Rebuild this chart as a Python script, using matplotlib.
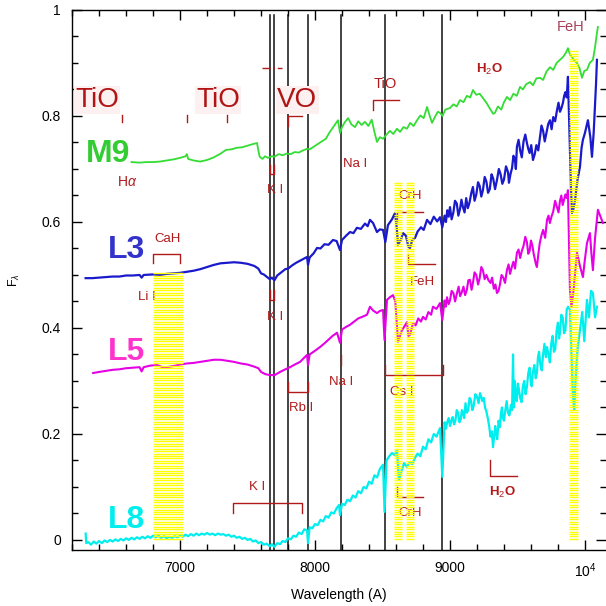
import numpy as np
import matplotlib
matplotlib.use('Agg')
import matplotlib.pyplot as plt
from matplotlib.ticker import MultipleLocator, FixedLocator, FixedFormatter

plt.rcParams['font.family'] = ['Liberation Sans', 'DejaVu Sans']
plt.rcParams['mathtext.fontset'] = 'custom'
plt.rcParams['mathtext.rm'] = 'Liberation Sans'
plt.rcParams['mathtext.it'] = 'Liberation Sans:italic'

# spectra as (wavelength [A], normalised flux) pairs
m9 = [(6640, .713), (6700, .712), (6750, .713), (6800, .713), (6850, .714), (6900, .716), (6950, .718),
      (7000, .721), (7040, .724), (7050, .728), (7060, .719), (7100, .716), (7150, .714), (7200, .717),
      (7250, .722), (7300, .729), (7340, .736), (7380, .737), (7420, .740), (7460, .741), (7500, .744),
      (7540, .747), (7570, .749), (7580, .735), (7590, .723), (7610, .719), (7630, .724), (7650, .721),
      (7680, .724), (7700, .723), (7730, .728), (7760, .726), (7790, .729), (7820, .728), (7850, .732),
      (7880, .731), (7910, .735), (7940, .738), (7960, .737), (7990, .742), (8020, .747), (8050, .752),
      (8080, .757), (8110, .770), (8140, .781), (8170, .792), (8185, .768), (8200, .779), (8220, .788),
      (8245, .796), (8270, .784), (8296, .779), (8320, .790), (8345, .783), (8370, .789), (8395, .781),
      (8420, .793), (8440, .770), (8459, .751), (8480, .760), (8504, .757), (8530, .765), (8555, .772),
      (8580, .766), (8607, .776), (8630, .770), (8655, .779), (8681, .776), (8705, .787), (8730, .781),
      (8756, .792), (8780, .801), (8805, .796), (8830, .817), (8850, .800), (8867, .787), (8890, .799),
      (8910, .808), (8926, .806), (8945, .800), (8965, .812), (9000, .815), (9025, .822), (9050, .818),
      (9074, .830), (9100, .826), (9125, .838), (9150, .835), (9170, .849), (9195, .840), (9220, .842),
      (9244, .834), (9270, .825), (9300, .812), (9320, .804), (9333, .806), (9355, .818), (9380, .812),
      (9400, .826), (9422, .836), (9445, .830), (9470, .842), (9495, .838), (9519, .855), (9540, .850),
      (9565, .860), (9593, .864), (9615, .858), (9640, .871), (9667, .872), (9690, .868), (9715, .884),
      (9741, .892), (9765, .887), (9790, .900), (9815, .906), (9840, .912), (9860, .920), (9874, .928),
      (9890, .915), (9904, .911), (9920, .905), (9941, .900), (9960, .890), (9978, .872), (9995, .885),
      (10015, .887), (10035, .900), (10059, .906), (10075, .930), (10089, .957), (10096, .968)]

l3 = [(6300, .494), (6350, .494), (6400, .495), (6450, .496), (6500, .497), (6550, .497), (6600, .499),
      (6650, .499), (6700, .500), (6715, .495), (6730, .500), (6800, .501), (6850, .500), (6900, .502),
      (6950, .503), (7000, .504), (7050, .506), (7100, .508), (7150, .511), (7200, .515), (7250, .519),
      (7300, .522), (7350, .523), (7400, .524), (7450, .523), (7500, .521), (7550, .517), (7580, .512),
      (7600, .503), (7620, .501), (7640, .497), (7665, .492), (7680, .495), (7699, .490), (7720, .499),
      (7750, .505), (7780, .511), (7800, .512), (7830, .518), (7860, .523), (7890, .527), (7920, .531),
      (7941, .534), (7948, .519), (7960, .533), (7990, .541), (8015, .551), (8040, .550), (8070, .558),
      (8100, .557), (8133, .566), (8160, .564), (8185, .547), (8200, .566), (8230, .574), (8259, .581),
      (8285, .579), (8310, .589), (8340, .587), (8370, .597), (8390, .592), (8407, .604), (8430, .598),
      (8459, .581), (8480, .586), (8504, .585), (8521, .562), (8540, .594), (8570, .605), (8593, .617),
      (8605, .590), (8615, .557), (8635, .566), (8652, .579), (8674, .574), (8692, .553), (8704, .551),
      (8720, .566), (8741, .570), (8760, .582), (8785, .590), (8805, .585), (8830, .604), (8855, .596),
      (8880, .610), (8905, .601), (8926, .609), (8943, .590), (8960, .612), (8970, .600), (8980, .622),
      (8990, .610), (9000, .628), (9012, .605), (9025, .618), (9037, .640), (9050, .635), (9062, .612),
      (9074, .624), (9085, .642), (9096, .628), (9108, .618), (9120, .645), (9132, .626), (9145, .637),
      (9158, .655), (9170, .666), (9182, .640), (9195, .652), (9208, .675), (9220, .668), (9232, .648),
      (9244, .660), (9257, .685), (9270, .676), (9282, .655), (9295, .662), (9308, .690), (9320, .682),
      (9334, .662), (9348, .679), (9362, .700), (9375, .690), (9388, .672), (9400, .680), (9415, .705),
      (9430, .694), (9437, .674), (9448, .690), (9460, .702), (9470, .725), (9480, .720), (9488, .700),
      (9496, .742), (9508, .755), (9520, .735), (9532, .722), (9545, .752), (9558, .765), (9570, .749),
      (9580, .738), (9590, .730), (9602, .745), (9615, .717), (9628, .728), (9640, .745), (9654, .735),
      (9667, .760), (9678, .782), (9690, .772), (9702, .752), (9715, .768), (9728, .785), (9741, .792),
      (9753, .775), (9765, .798), (9779, .790), (9793, .811), (9804, .825), (9815, .808), (9826, .815),
      (9837, .825), (9846, .838), (9855, .845), (9865, .835), (9874, .874), (9882, .800), (9889, .736),
      (9897, .660), (9904, .617), (9915, .625), (9926, .640), (9945, .680), (9963, .704), (9975, .740),
      (9985, .755), (10000, .768), (10022, .792), (10040, .760), (10052, .723), (10065, .770),
      (10074, .817), (10082, .860), (10089, .906)]

l5 = [(6356, .315), (6400, .317), (6450, .319), (6500, .321), (6550, .322), (6600, .324), (6650, .325),
      (6700, .326), (6715, .318), (6730, .326), (6780, .329), (6830, .330), (6870, .326), (6900, .326),
      (6950, .328), (7000, .331), (7050, .333), (7100, .334), (7150, .336), (7200, .338), (7250, .340),
      (7300, .340), (7350, .338), (7400, .336), (7450, .333), (7500, .331), (7550, .327), (7580, .324),
      (7600, .317), (7630, .313), (7665, .311), (7700, .311), (7720, .314), (7741, .317), (7780, .322),
      (7815, .326), (7850, .331), (7889, .336), (7920, .344), (7941, .349), (7948, .330), (7960, .350),
      (8000, .357), (8037, .364), (8070, .371), (8100, .378), (8130, .385), (8163, .391), (8185, .372),
      (8200, .397), (8230, .402), (8259, .406), (8290, .412), (8320, .418), (8350, .421), (8385, .425),
      (8407, .440), (8430, .433), (8459, .428), (8480, .432), (8504, .434), (8515, .377), (8533, .453),
      (8555, .458), (8578, .462), (8595, .450), (8615, .374), (8630, .385), (8644, .396), (8660, .402),
      (8681, .411), (8692, .385), (8704, .387), (8726, .409), (8745, .405), (8765, .418), (8785, .412),
      (8800, .421), (8820, .416), (8840, .430), (8860, .425), (8874, .440), (8900, .436), (8926, .447),
      (8943, .415), (8960, .452), (8969, .440), (8978, .458), (8990, .445), (9000, .452), (9012, .470),
      (9025, .466), (9038, .450), (9052, .466), (9064, .478), (9075, .460), (9088, .468), (9100, .478),
      (9112, .462), (9125, .472), (9136, .490), (9148, .491), (9160, .472), (9170, .485), (9182, .505),
      (9195, .500), (9208, .482), (9220, .494), (9232, .515), (9244, .509), (9257, .492), (9270, .500),
      (9285, .490), (9300, .485), (9312, .495), (9325, .474), (9337, .482), (9348, .466), (9360, .470),
      (9370, .482), (9382, .500), (9395, .495), (9408, .485), (9422, .509), (9434, .520), (9445, .502),
      (9458, .515), (9470, .525), (9482, .512), (9496, .542), (9508, .548), (9520, .532), (9532, .545),
      (9545, .555), (9558, .572), (9570, .562), (9580, .540), (9590, .545), (9600, .565), (9610, .556),
      (9620, .540), (9630, .528), (9637, .520), (9644, .515), (9655, .540), (9665, .560), (9678, .575),
      (9690, .585), (9705, .570), (9719, .604), (9730, .612), (9740, .598), (9752, .610), (9765, .620),
      (9779, .640), (9793, .628), (9804, .618), (9815, .640), (9825, .650), (9835, .632), (9845, .642),
      (9855, .652), (9865, .645), (9874, .660), (9882, .560), (9889, .472), (9900, .440), (9915, .470),
      (9941, .542), (9960, .520), (9985, .496), (10000, .530), (10015, .560), (10037, .579),
      (10048, .540), (10059, .509), (10075, .570), (10096, .623), (10115, .610), (10133, .598)]

l8 = [(6300, .012), (6305, -.006), (6320, -.004), (6340, -.009), (6360, -.003), (6380, -.007), (6400, -.002),
      (6420, -.006), (6440, -.001), (6460, -.004), (6480, .000), (6500, -.003), (6520, .001), (6540, -.002),
      (6560, .002), (6580, -.001), (6600, .003), (6620, .000), (6640, .004), (6660, .001), (6680, .005),
      (6700, .002), (6720, .006), (6740, .003), (6760, .007), (6780, .004), (6800, .008), (6820, .005),
      (6840, .008), (6860, .004), (6880, .007), (6900, .003), (6920, .006), (6940, .004), (6960, .007),
      (6980, .005), (7000, .008), (7020, .006), (7040, .010), (7060, .007), (7080, .011), (7100, .008),
      (7120, .012), (7140, .009), (7160, .012), (7180, .010), (7200, .013), (7220, .010), (7240, .012),
      (7260, .009), (7280, .012), (7300, .010), (7320, .011), (7340, .008), (7360, .010), (7380, .006),
      (7400, .008), (7420, .004), (7440, .006), (7460, .002), (7480, .004), (7500, .000), (7520, .002),
      (7540, -.003), (7560, -.001), (7580, -.006), (7600, -.004), (7620, -.009), (7640, -.007),
      (7665, -.012), (7680, -.008), (7699, -.013), (7720, -.006), (7740, -.008), (7760, -.002),
      (7780, -.004), (7800, .003), (7820, .001), (7840, .008), (7860, .006), (7880, .014), (7900, .011),
      (7920, .020), (7941, .018), (7948, -.006), (7960, .024), (7980, .022), (8000, .030), (8020, .028),
      (8040, .038), (8060, .035), (8080, .045), (8100, .042), (8120, .052), (8140, .050), (8160, .060),
      (8178, .066), (8185, .047), (8200, .068), (8220, .066), (8240, .076), (8260, .073), (8280, .084),
      (8300, .080), (8320, .092), (8340, .088), (8360, .100), (8380, .097), (8400, .110), (8420, .106),
      (8440, .122), (8460, .118), (8480, .134), (8504, .142), (8515, .053), (8530, .150), (8550, .158),
      (8570, .164), (8590, .160), (8607, .170), (8622, .113), (8640, .130), (8660, .145), (8680, .138),
      (8704, .147), (8720, .143), (8741, .155), (8760, .163), (8780, .158), (8800, .176), (8820, .171),
      (8840, .190), (8860, .184), (8880, .200), (8900, .195), (8926, .211), (8943, .119), (8960, .222),
      (8970, .210), (8978, .221), (8990, .230), (9000, .215), (9010, .225), (9020, .232), (9030, .218),
      (9040, .225), (9050, .245), (9060, .240), (9070, .222), (9080, .228), (9088, .245), (9096, .240),
      (9105, .230), (9115, .258), (9125, .240), (9135, .245), (9145, .268), (9155, .264), (9165, .245),
      (9175, .252), (9188, .275), (9200, .270), (9212, .258), (9222, .277), (9232, .270), (9240, .262),
      (9250, .268), (9260, .250), (9270, .242), (9280, .230), (9290, .215), (9300, .195), (9310, .205),
      (9319, .175), (9327, .195), (9335, .215), (9343, .200), (9350, .190), (9360, .225), (9370, .213),
      (9378, .240), (9385, .250), (9392, .230), (9400, .225), (9410, .245), (9420, .262), (9430, .240),
      (9440, .235), (9452, .255), (9460, .245), (9467, .350), (9474, .250), (9480, .300), (9488, .270),
      (9495, .262), (9503, .295), (9510, .285), (9520, .268), (9530, .260), (9540, .290), (9550, .300),
      (9560, .275), (9570, .289), (9580, .315), (9590, .325), (9598, .300), (9605, .290), (9615, .318),
      (9625, .330), (9635, .305), (9644, .315), (9652, .345), (9660, .355), (9670, .330), (9680, .320),
      (9690, .350), (9700, .370), (9710, .345), (9719, .364), (9730, .350), (9740, .335), (9750, .370),
      (9760, .385), (9770, .355), (9780, .360), (9790, .395), (9800, .410), (9808, .380), (9815, .391),
      (9825, .425), (9835, .420), (9845, .390), (9855, .395), (9865, .435), (9875, .440), (9889, .434),
      (9900, .350), (9910, .280), (9920, .245), (9930, .300), (9945, .360), (9963, .396), (9980, .430),
      (9995, .375), (10015, .453), (10030, .420), (10045, .470), (10059, .466), (10075, .420), (10089, .440)]

# atomic lines marked across the plot (A)
line_wl = [7665, 7699, 7800, 7948, 8189, 8521, 8943]

# shaded molecular bands: start, end and top of the shading
band_lo = [6800, 8588, 8675, 9882]
band_hi = [7020, 8646, 8733, 9945]
band_top = [0.506, 0.674, 0.674, 0.925]

fig = plt.figure(figsize=(6.06, 6.06), dpi=100)
ax = fig.add_axes([0.119, 0.0924, 0.881, 0.8911])

red = '#b01a1a'

for spec, col, lw in [(m9, '#33dd33', 1.3), (l3, '#1a1acc', 1.6), (l5, '#e600e6', 1.5), (l8, '#00eeee', 1.6)]:
    wl, fl = np.array(spec).T
    ax.plot(wl, fl, color=col, lw=lw, zorder=3)

for wl in line_wl:
    ax.axvline(wl, ymin=0, ymax=0.99, color='#111111', lw=1.1, zorder=2)

# yellow striped bands drawn above the spectra
for lo, hi, top in zip(band_lo, band_hi, band_top):
    ys = np.arange(0.002, top, 0.0046)
    ax.hlines(ys, lo, hi, color='#ffff00', lw=1.0, zorder=6)

# star labels
big = dict(fontsize=23, fontweight='bold', ha='center', va='center')
ax.text(6470, 0.728, 'M9', color='#33cc33', **big)
ax.text(6600, 0.547, 'L3', color='#3333cc', **big)
ax.text(6600, 0.355, 'L5', color='#ff33cc', **big)
ax.text(6600, 0.038, 'L8', color='#00eeee', **big)

# band names
mol = dict(fontsize=20, color='#b01515', ha='center', va='center', zorder=4,
           bbox=dict(facecolor='#fcf0f0', edgecolor='none', pad=1))
ax.text(6385, 0.830, 'TiO', **mol)
ax.text(7281, 0.830, 'TiO', **mol)
ax.text(7867, 0.830, 'VO', **mol)

small = dict(fontsize=9.5, color=red, ha='center', va='center', zorder=4)
ax.text(8519, 0.860, 'TiO', **dict(small, fontsize=10.5))
ax.text(9289, 0.887, 'H$_2$O', fontweight='bold', **small)
ax.text(9896, 0.968, 'FeH', **dict(small, color='#a8405a', fontsize=10.5))
ax.text(8296, 0.709, 'Na I', **small)
ax.text(6607, 0.675, 'H$\\alpha$', **dict(small, fontsize=10))
ax.text(7704, 0.660, 'K I', **small)
ax.text(6904, 0.568, 'CaH', **small)
ax.text(6756, 0.458, 'Li I', **small)
ax.text(8704, 0.649, 'CrH', **small)
ax.text(8793, 0.487, 'FeH', **small)
ax.text(7704, 0.421, 'K I', **small)
ax.text(7896, 0.249, 'Rb I', **small)
ax.text(8193, 0.298, 'Na I', **small)
ax.text(8644, 0.279, 'Cs I', **small)
ax.text(8704, 0.051, 'CrH', **small)
ax.text(9385, 0.089, 'H$_2$O', fontweight='bold', **small)
ax.text(7570, 0.100, 'K I', **small)

# brackets and tick marks under the labels
mk = dict(color=red, lw=1.0, zorder=4)
for wl in [6570, 7052, 7348]:
    ax.plot([wl, wl], [0.789, 0.802], **mk)
ax.plot([7800, 7800, 7904], [0.781, 0.800, 0.800], **mk)
ax.plot([7607, 7756], [0.891, 0.891], color=red, lw=1.0, ls=(0, (6, 2, 1, 2)))
ax.plot([8430, 8430, 8622], [0.811, 0.830, 0.830], **mk)
ax.plot([7665, 7665, 7699, 7699], [0.708, 0.690, 0.690, 0.708], **mk)
ax.plot([7665, 7665, 7699, 7699], [0.472, 0.453, 0.453, 0.472], **mk)
ax.plot([6800, 6800, 7000, 7000], [0.523, 0.540, 0.540, 0.523], **mk)
ax.plot([8607, 8607, 8800], [0.600, 0.619, 0.619], **mk)
ax.plot([8689, 8689, 8889], [0.540, 0.521, 0.521], **mk)
ax.plot([7800, 7800, 7948, 7948], [0.298, 0.279, 0.279, 0.298], **mk)
ax.plot([8189, 8189], [0.330, 0.349], **mk)
ax.plot([8519, 8519, 8948, 8948], [0.330, 0.311, 0.311, 0.330], **mk)
ax.plot([8607, 8607, 8800], [0.100, 0.081, 0.081], **mk)
ax.plot([9296, 9296, 9496], [0.151, 0.121, 0.121], **mk)
ax.plot([7393, 7393, 7904, 7904], [0.051, 0.070, 0.070, 0.051], **mk)

ax.set_xlim(6200, 10156)
ax.set_ylim(-0.019, 1.0)

ax.xaxis.set_major_locator(FixedLocator([7000, 8000, 9000, 10000]))
ax.xaxis.set_major_formatter(FixedFormatter(['7000', '8000', '9000', '10$^4$']))
ax.xaxis.set_minor_locator(MultipleLocator(200))
ax.yaxis.set_major_locator(FixedLocator([0, 0.2, 0.4, 0.6, 0.8, 1.0]))
ax.yaxis.set_major_formatter(FixedFormatter(['0', '0.2', '0.4', '0.6', '0.8', '1']))
ax.yaxis.set_minor_locator(MultipleLocator(0.05))
ax.tick_params(which='both', direction='in', top=True, right=True, labelsize=10, pad=8)
ax.tick_params(which='major', length=7, width=1)
ax.tick_params(which='minor', length=4, width=1)
for sp in ax.spines.values():
    sp.set_linewidth(1.0)
ax.spines['right'].set_visible(False)

ax.set_xlabel('Wavelength (A)', fontsize=10, labelpad=6)
ax.set_ylabel('F$_\\lambda$', fontsize=9, labelpad=14)

fig.savefig('out.png', dpi=100)
